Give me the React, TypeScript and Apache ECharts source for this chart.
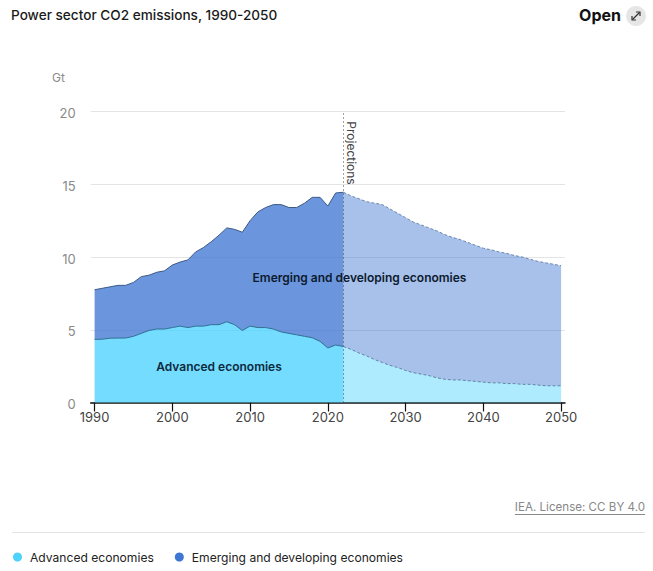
import React, { useEffect, useRef } from "react";
import * as echarts from "echarts";

const allYears = ["1990","1991","1992","1993","1994","1995","1996","1997","1998","1999","2000","2001","2002","2003","2004","2005","2006","2007","2008","2009","2010","2011","2012","2013","2014","2015","2016","2017","2018","2019","2020","2021","2022","2023","2024","2025","2026","2027","2028","2029","2030","2031","2032","2033","2034","2035","2036","2037","2038","2039","2040","2041","2042","2043","2044","2045","2046","2047","2048","2049","2050"];
const historyYears = ["1990","1991","1992","1993","1994","1995","1996","1997","1998","1999","2000","2001","2002","2003","2004","2005","2006","2007","2008","2009","2010","2011","2012","2013","2014","2015","2016","2017","2018","2019","2020","2021","2022"];
const advancedHistory = [4.34,4.35,4.42,4.43,4.43,4.55,4.75,4.95,5.05,5.05,5.15,5.25,5.15,5.25,5.25,5.35,5.35,5.55,5.35,4.95,5.25,5.15,5.15,5.05,4.85,4.75,4.65,4.55,4.45,4.2,3.75,3.95,3.85];
const emergingHistory = [3.41,3.5,3.53,3.62,3.62,3.7,3.9,3.8,3.9,4.0,4.3,4.4,4.65,5.1,5.4,5.7,6.15,6.45,6.55,6.75,7.25,7.95,8.25,8.55,8.75,8.65,8.75,9.15,9.65,9.9,9.75,10.45,10.6];
const projectionYears = ["2022","2023","2024","2025","2026","2027","2028","2029","2030","2031","2032","2033","2034","2035","2036","2037","2038","2039","2040","2041","2042","2043","2044","2045","2046","2047","2048","2049","2050"];
const advancedProjection = [3.85,3.65,3.4,3.2,2.95,2.75,2.55,2.4,2.2,2.05,1.95,1.85,1.7,1.6,1.55,1.55,1.5,1.45,1.4,1.35,1.35,1.3,1.3,1.25,1.25,1.2,1.15,1.15,1.15];
const emergingProjection = [10.6,10.55,10.6,10.6,10.75,10.85,10.75,10.6,10.5,10.35,10.25,10.15,10.1,9.95,9.8,9.65,9.5,9.35,9.2,9.15,9,8.95,8.8,8.75,8.6,8.5,8.45,8.35,8.25];
const xTicks = ["1990","2000","2010","2020","2030","2040","2050"];
const ADV = "Advanced economies";
const EME = "Emerging and developing economies";
const FONT = "Inter, 'Noto Sans', sans-serif";

const zip = (xs: string[], ys: number[]) => xs.map((x, i) => [x, ys[i]]);
const isTick = (_: number, v: string) => xTicks.includes(v);

export default function App() {
  const ref = useRef<HTMLDivElement>(null);
  useEffect(() => {
    const chart = echarts.init(ref.current!, undefined, { renderer: "svg" });
    const area = (name: string, stack: string, xs: string[], ys: number[], color: string, alpha: number, line: string, dashed: boolean, extra: any = {}) => ({
      type: "line", name, stack, data: zip(xs, ys), showSymbol: false, silent: true,
      itemStyle: { color },
      lineStyle: { color: line, width: 1, type: dashed ? [3, 2] : "solid" },
      areaStyle: { color, opacity: alpha },
      ...extra,
    });
    chart.setOption({
      animation: false,
      textStyle: { fontFamily: FONT },
      grid: { left: 90.7, right: 88, top: 111.5, height: 291, containLabel: false },
      xAxis: {
        type: "category", data: allYears, boundaryGap: true,
        splitLine: { show: false },
        axisLine: { show: true, lineStyle: { color: "#111", width: 1.5 } },
        axisTick: { show: true, length: 9, alignWithLabel: true, interval: isTick, lineStyle: { color: "#111", width: 1.2 } },
        axisLabel: { interval: isTick, margin: 8, color: "#444", fontSize: 13, fontFamily: FONT },
      },
      yAxis: {
        type: "value", min: 0, max: 20, interval: 5,
        axisLine: { show: false }, axisTick: { show: false },
        axisLabel: {
          margin: 15, formatter: "{a|{value}}",
          rich: { a: { color: "#8a8a8a", fontSize: 13, fontFamily: FONT, padding: [3, 0, 0, 0] } },
        },
        splitLine: { show: true, lineStyle: { color: "#e4e4e4", width: 1 } },
      },
      legend: {
        left: 8, top: 546, itemWidth: 9, itemHeight: 9, itemGap: 21, icon: "circle",
        selectedMode: false,
        data: [
          { name: ADV, itemStyle: { color: "#4DD2FB" } },
          { name: EME, itemStyle: { color: "#3E76D3" } },
        ],
        textStyle: { color: "#222", fontSize: 12.1, fontFamily: FONT, padding: [0, 0, 0, 3] },
      },
      series: [
        area(ADV, "hist", historyYears, advancedHistory, "#3FCFFF", 0.72, "#2f6f93", false),
        area(EME, "hist", historyYears, emergingHistory, "#3E76D3", 0.77, "#3c5a86", false, {
          markLine: {
            silent: true, symbol: "none", label: { show: false },
            lineStyle: { color: "#444", type: [1, 3], width: 1 },
            data: [{ xAxis: "2022" }],
          },
        }),
        area(ADV, "proj", projectionYears, advancedProjection, "#3FCFFF", 0.42, "#5d86a6", true),
        area(EME, "proj", projectionYears, emergingProjection, "#3E76D3", 0.45, "#6d87ad", true),
      ],
      graphic: [
        { type: "text", x: 11, y: 15, style: { text: "Power sector CO2 emissions, 1990-2050", fontFamily: FONT, fontSize: 13.6, fontWeight: 500, fill: "#1a1a1a", verticalAlign: "middle" } },
        { type: "text", x: 621, y: 15, style: { text: "Open", align: "right", verticalAlign: "middle", fontFamily: FONT, fontSize: 16, fontWeight: 700, fill: "#111" } },
        { type: "circle", shape: { cx: 636, cy: 16, r: 10 }, style: { fill: "#e6e6e6" } },
        { type: "line", shape: { x1: 632.5, y1: 19.5, x2: 639.5, y2: 12.5 }, style: { stroke: "#333", lineWidth: 1.2 } },
        { type: "polyline", shape: { points: [[636, 12], [640, 12], [640, 16]] }, style: { stroke: "#333", lineWidth: 1.2, fill: "none" } },
        { type: "polyline", shape: { points: [[632, 16], [632, 20], [636, 20]] }, style: { stroke: "#333", lineWidth: 1.2, fill: "none" } },
        { type: "text", x: 52, y: 77, style: { text: "Gt", verticalAlign: "middle", fontFamily: FONT, fontSize: 12, fill: "#8a8a8a" } },
        { type: "text", x: 351, y: 153, rotation: -Math.PI / 2, style: { text: "Projections", align: "center", verticalAlign: "middle", fontFamily: FONT, fontSize: 12, fill: "#444" } },
        { type: "text", x: 359.5, y: 277, z: 10, style: { text: EME, align: "center", verticalAlign: "middle", fontFamily: FONT, fontSize: 12, fontWeight: 600, fill: "#0c1a2e" } },
        { type: "text", x: 219, y: 366, z: 10, style: { text: ADV, align: "center", verticalAlign: "middle", fontFamily: FONT, fontSize: 12, fontWeight: 600, fill: "#0c2a3e" } },
        { type: "text", x: 645, y: 507, style: { text: "IEA. License: CC BY 4.0", align: "right", verticalAlign: "middle", fontFamily: FONT, fontSize: 11.6, fill: "#888" } },
        { type: "line", shape: { x1: 515, y1: 514.5, x2: 645, y2: 514.5 }, style: { stroke: "#888", lineWidth: 1 } },
        { type: "line", shape: { x1: 12, y1: 532.5, x2: 645, y2: 532.5 }, style: { stroke: "#e4e4e4", lineWidth: 1 } },
      ],
    });
    return () => chart.dispose();
  }, []);
  return <div ref={ref} style={{ position: "fixed", left: 0, top: 0, width: 653, height: 571, background: "#fff" }} />;
}
